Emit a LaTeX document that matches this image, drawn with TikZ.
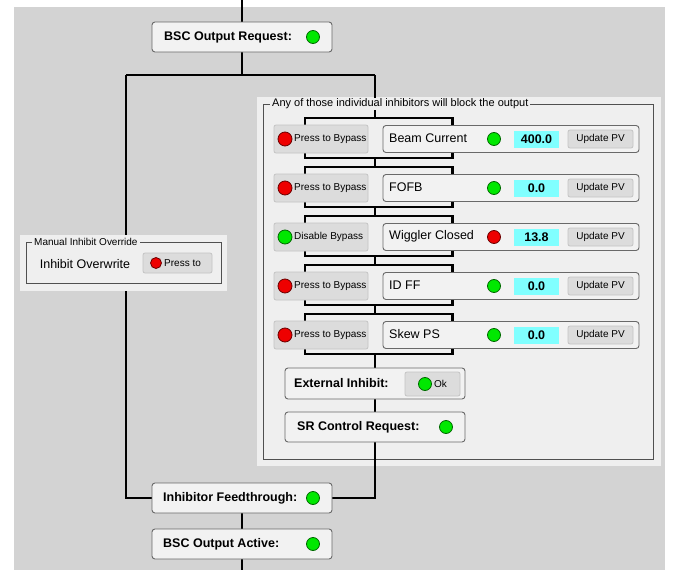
\documentclass[tikz,border=0pt]{standalone}
\usepackage{fontspec}
\setmainfont{Liberation Sans}
\usetikzlibrary{positioning}
\definecolor{bggray}{RGB}{211,211,211}
\definecolor{panelgray}{RGB}{239,239,239}
\definecolor{boxfill}{RGB}{242,242,242}
\definecolor{boxborder}{RGB}{105,105,105}
\definecolor{btnfill}{RGB}{220,220,220}
\definecolor{btnborder}{RGB}{196,196,196}
\definecolor{ledgreen}{RGB}{0,232,0}
\definecolor{ledred}{RGB}{238,0,0}
\definecolor{pvcyan}{RGB}{128,255,255}
\definecolor{framegray}{RGB}{80,80,80}
\pgfdeclarelayer{back}
\pgfdeclarelayer{wires}
\pgfsetlayers{back,wires,main}

\begin{document}
\begin{tikzpicture}[x=1pt,y=-1pt,
    wire/.style={line width=2.2pt, black},
    statbox/.style={draw=boxborder, fill=boxfill, line width=0.9pt, rounded corners=3pt, minimum width=180pt, minimum height=30pt, inner sep=0pt},
    rowbox/.style={statbox, minimum width=256pt, minimum height=27pt},
    btn/.style={draw=btnborder, fill=btnfill, line width=0.8pt, rounded corners=2pt, inner sep=0pt},
    led/.style={circle, fill=#1, draw=#1!45!black, line width=0.8pt, minimum size=13pt, inner sep=0pt},
    boldlabel/.style={anchor=west, inner sep=0pt, font=\bfseries\fontsize{12.5}{14}\selectfont},
    plainlabel/.style={anchor=west, inner sep=0pt, font=\fontsize{12.5}{14}\selectfont},
    smalllabel/.style={inner sep=0pt, font=\fontsize{10}{12}\selectfont},
]
    \useasboundingbox (0,0) rectangle (678,570);

    % Screen and inhibitor panel
    \begin{pgfonlayer}{back}
        \fill[bggray] (14,7) rectangle (665,570);
        \fill[panelgray] (257,97) rectangle (661,466);
        \draw[framegray, line width=1pt] (263,104) rectangle (653,459);
    \end{pgfonlayer}
    \node[fill=panelgray, anchor=west, inner xsep=2pt, inner ysep=1pt, font=\fontsize{11}{13}\selectfont] (inhtitle) at (270,104) {Any of those individual inhibitors will block the output};

    % Output request and fork
    \coordinate (top) at (242,0);
    \node[statbox] (request) at (242,37) {};
    \node[boldlabel] (requestlabel) at (164,37) {BSC Output Request:};
    \node[led=ledgreen] (requestled) at (313,37) {};
    \coordinate (fork) at (242,75);
    \coordinate (forkL) at (126,75);
    \coordinate (forkR) at (375,75);

    % Individual inhibitors
    \foreach \i/\yc/\sig/\sled/\pv/\blabel/\bled in {
        1/139/Beam Current/ledgreen/400.0/Press to Bypass/ledred,
        2/188/FOFB/ledgreen/0.0/Press to Bypass/ledred,
        3/237/Wiggler Closed/ledred/13.8/Disable Bypass/ledgreen,
        4/286/ID FF/ledgreen/0.0/Press to Bypass/ledred,
        5/335/Skew PS/ledgreen/0.0/Press to Bypass/ledred} {
        \node[btn, minimum width=94pt, minimum height=28pt] (bypass\i) at (321,\yc) {};
        \node[led=\bled, minimum size=14pt] (bypassled\i) at (285,\yc) {};
        \node[smalllabel, anchor=west] (bypasstext\i) at (294,\yc) {\blabel};
        \node[rowbox] (inhib\i) at (511,\yc) {};
        \node[plainlabel] (inhibtext\i) at (389,\yc-1) {\sig};
        \node[led=\sled] (inhibled\i) at (494,\yc) {};
        \node[fill=pvcyan, minimum width=45pt, minimum height=17pt, inner sep=0pt, font=\bfseries\fontsize{12.5}{14}\selectfont] (pv\i) at (536.5,\yc) {\pv};
        \node[btn, smalllabel, minimum width=65pt, minimum height=18pt] (update\i) at (600.5,\yc) {Update PV};
        \coordinate (in\i) at (375,\yc-21);
        \coordinate (out\i) at (375,\yc+19);
        \begin{pgfonlayer}{wires}
            \draw[wire] ([xshift=31pt]bypass\i.west) |- (in\i) -| ([xshift=70pt]inhib\i.west);
            \draw[wire] ([xshift=31pt]bypass\i.west) |- (out\i) -| ([xshift=70pt]inhib\i.west);
        \end{pgfonlayer}
    }

    % External inhibit and SR request
    \node[statbox, minimum height=31pt] (extinh) at (375,383.5) {};
    \node[boldlabel] (extinhlabel) at (294,383.5) {External Inhibit:};
    \node[btn, minimum width=55pt, minimum height=24pt] (extok) at (432.5,384) {};
    \node[led=ledgreen] (extokled) at (425,384) {};
    \node[smalllabel, anchor=west] (extoktext) at (434,384) {Ok};
    \node[statbox] (srreq) at (375,427) {};
    \node[boldlabel] (srreqlabel) at (297,427) {SR Control Request:};
    \node[led=ledgreen] (srreqled) at (446,427) {};

    % Feedthrough and output
    \node[statbox] (feed) at (242,498) {};
    \node[boldlabel] (feedlabel) at (163,498) {Inhibitor Feedthrough:};
    \node[led=ledgreen] (feedled) at (313,498) {};
    \node[statbox] (active) at (242,544) {};
    \node[boldlabel] (activelabel) at (163,544) {BSC Output Active:};
    \node[led=ledgreen] (activeled) at (313,544) {};
    \coordinate (bottom) at (242,570);

    % Manual override
    \fill[panelgray] (20,235) rectangle (227,291);
    \draw[framegray, line width=1pt] (26,242) rectangle (221,283);
    \node[fill=panelgray, anchor=west, inner xsep=2pt, inner ysep=1pt, font=\fontsize{10}{12}\selectfont] (mantitle) at (32,242) {Manual Inhibit Override};
    \node[font=\fontsize{12.5}{14}\selectfont, inner sep=0pt] (mantext) at (85,264) {Inhibit Overwrite};
    \node[btn, minimum width=69pt, minimum height=20pt] (manbtn) at (177.5,263) {};
    \node[led=ledred, minimum size=11pt] (manled) at (156,263) {};
    \node[smalllabel, anchor=west] (manbtntext) at (164,263) {Press to};

    % Wires
    \begin{pgfonlayer}{wires}
        \draw[wire] (top) -- (request);
        \draw[wire] (request) -- (fork);
        \draw[wire] (forkL) -- (forkR);
        \draw[wire] (forkL) |- (feed);
        \draw[wire] (forkR) -- (in1);
        \foreach \i/\j in {1/2, 2/3, 3/4, 4/5}
            \draw[wire] (out\i) -- (in\j);
        \draw[wire] (out5) -- (extinh);
        \draw[wire] (extinh) -- (srreq);
        \draw[wire] (srreq) |- (feed);
        \draw[wire] (feed) -- (active);
        \draw[wire] (active) -- (bottom);
    \end{pgfonlayer}
\end{tikzpicture}
\end{document}
